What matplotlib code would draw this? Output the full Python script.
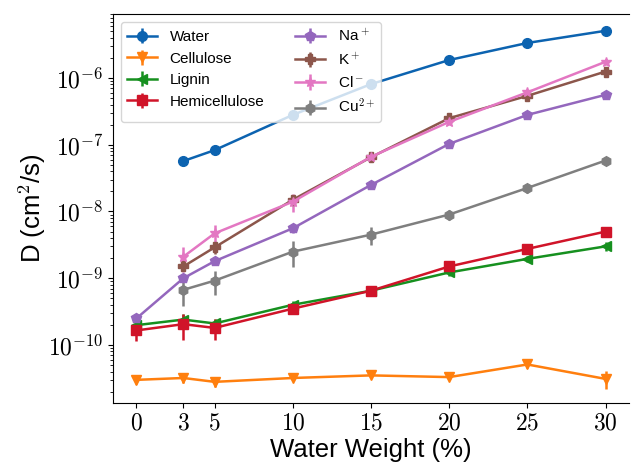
import matplotlib.pyplot as plt
from matplotlib.ticker import FuncFormatter
import numpy as np

plt.rcParams['font.family'] = ['Liberation Sans', 'DejaVu Sans']
plt.rcParams['mathtext.fontset'] = 'cm'

# Data
x_all = [0, 3, 5, 10, 15, 20, 25, 30]
x_ion = [3, 5, 10, 15, 20, 25, 30]

water = [5.7e-8, 8.3e-8, 2.8e-7, 8.1e-7, 1.86e-6, 3.35e-6, 5.1e-6]
water_err = [0.05, 0.05, 0.05, 0.05, 0.05, 0.05, 0.05]

cellulose = [3.0e-11, 3.2e-11, 2.8e-11, 3.2e-11, 3.5e-11, 3.3e-11, 5.1e-11, 3.1e-11]
cellulose_err = [0.12, 0.15, 0.15, 0.1, 0.1, 0.1, 0.12, 0.3]

lignin = [1.98e-10, 2.4e-10, 2.1e-10, 4.0e-10, 6.5e-10, 1.22e-9, 1.95e-9, 3.0e-9]
lignin_err = [0.12, 0.2, 0.15, 0.12, 0.1, 0.1, 0.1, 0.15]

hemi = [1.65e-10, 2.05e-10, 1.8e-10, 3.5e-10, 6.5e-10, 1.5e-9, 2.75e-9, 5.0e-9]
hemi_err = [0.3, 0.42, 0.35, 0.15, 0.1, 0.1, 0.1, 0.1]

na = [2.5e-10, 1.0e-9, 1.8e-9, 5.6e-9, 2.5e-8, 1.03e-7, 2.8e-7, 5.6e-7]
na_err = [0.15, 0.1, 0.12, 0.15, 0.1, 0.08, 0.08, 0.08]

k = [1.5e-9, 2.9e-9, 1.5e-8, 6.5e-8, 2.5e-7, 5.4e-7, 1.25e-6]
k_err = [0.15, 0.2, 0.15, 0.1, 0.1, 0.1, 0.1]

cl = [2.1e-9, 4.7e-9, 1.4e-8, 6.6e-8, 2.2e-7, 6.1e-7, 1.75e-6]
cl_err = [0.4, 0.35, 0.3, 0.12, 0.1, 0.1, 0.1]

cu = [6.7e-10, 9.2e-10, 2.5e-9, 4.5e-9, 9.0e-9, 2.25e-8, 5.8e-8]
cu_err = [0.42, 0.4, 0.42, 0.3, 0.18, 0.15, 0.08]

series = [
    (x_ion, water, water_err, 'Water', 'o', '#0c63b0'),
    (x_all, cellulose, cellulose_err, 'Cellulose', 'v', '#ff7f0e'),
    (x_all, lignin, lignin_err, 'Lignin', '<', '#16901f'),
    (x_all, hemi, hemi_err, 'Hemicellulose', 's', '#d01429'),
    (x_all, na, na_err, 'Na$^+$', 'p', '#9467bd'),
    (x_ion, k, k_err, 'K$^+$', 'P', '#8c564b'),
    (x_ion, cl, cl_err, 'Cl$^-$', '*', '#e377c2'),
    (x_ion, cu, cu_err, 'Cu$^{2+}$', 'h', '#7f7f7f'),
]

fig = plt.figure(figsize=(6.32, 4.68), dpi=100)
ax = fig.add_axes([113 / 632, 65 / 468, 516 / 632, 389 / 468])

for xs, ys, rel, lab, mk, col in series:
    ys = np.array(ys)
    ax.errorbar(xs, ys, yerr=ys * np.array(rel), label=lab, marker=mk,
                color=col, markersize=7, linewidth=1.8, elinewidth=1.8)

ax.set_yscale('log')
ax.set_ylim(1.35e-11, 9.1e-6)
ax.set_xlim(-1.5, 31.5)
ax.set_xticks([0, 3, 5, 10, 15, 20, 25, 30])
ax.xaxis.set_major_formatter(FuncFormatter(lambda v, p: r'$%d$' % v))
ax.yaxis.set_major_formatter(FuncFormatter(lambda v, p: r'$10^{%d}$' % round(np.log10(v))))
ax.tick_params(labelsize=17)
ax.spines['right'].set_visible(False)

ax.set_xlabel('Water Weight (%)', fontsize=18.5, labelpad=2)
ax.set_ylabel('D (cm$^2$/s)', fontsize=18.5, labelpad=0)
ax.legend(loc='upper left', ncol=2, fontsize=11)

plt.savefig('out.png', dpi=100)
